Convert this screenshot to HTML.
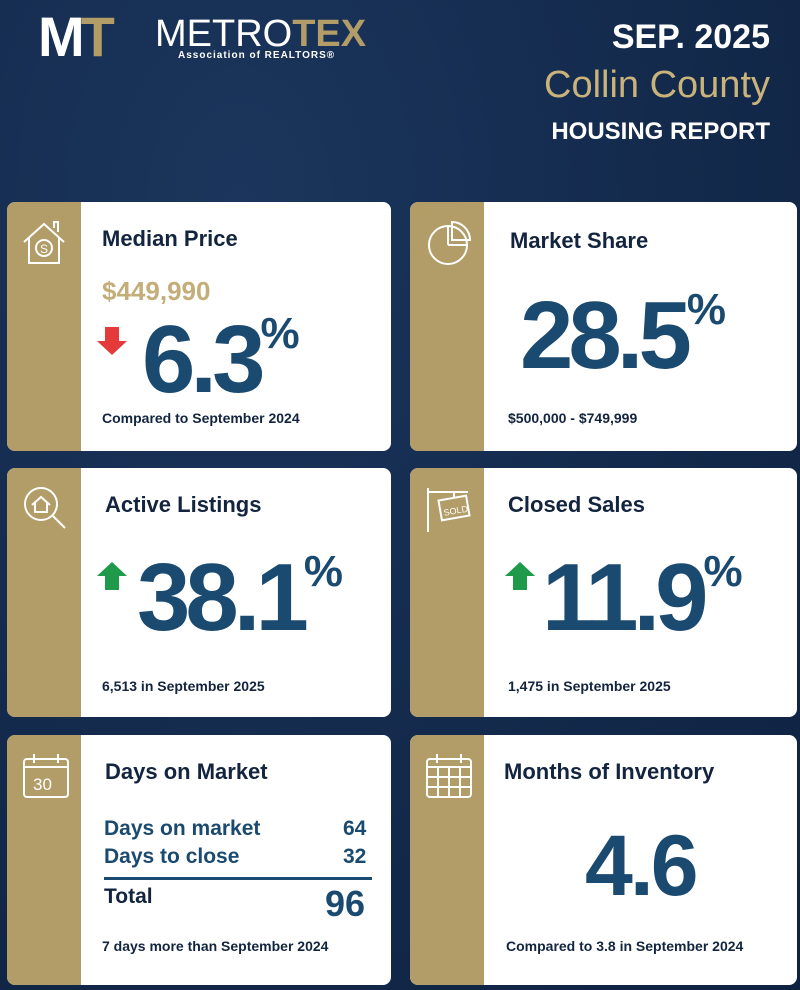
<!DOCTYPE html>
<html><head><meta charset="utf-8"><style>
*{margin:0;padding:0;box-sizing:border-box}
body{width:800px;height:990px;overflow:hidden;background:#14294a;font-family:"Liberation Sans",sans-serif;position:relative}
.bg{position:absolute;inset:0;background:radial-gradient(ellipse at 30% 20%,#1b355c 0%,#132a4c 55%,#0f2241 100%)}
.card{position:absolute;background:#fff;border-radius:8px;overflow:hidden}
.strip{position:absolute;left:0;top:0;bottom:0;width:74px;background:#b29c67}
.t{position:absolute;font-weight:bold;color:#13243f;font-size:22px}
.big{position:absolute;font-weight:bold;color:#1b4a70;letter-spacing:-5px;line-height:1}
.pct{font-size:44px;vertical-align:top;letter-spacing:0}
.s{position:absolute;font-weight:bold;color:#13243f;font-size:14px}
.icon{position:absolute;left:14px;top:16px}
</style></head><body>
<div class="bg"></div>
<div style="position:absolute;left:38px;top:10px;width:110px;height:54px;color:#fff;font-weight:bold;font-size:56px;line-height:54px;letter-spacing:-4px">M<span style="color:#b29c67">T</span></div>
<div style="position:absolute;left:155px;top:14px;color:#fff;font-size:38px;line-height:40px">METRO<b style="color:#b29c67">TEX</b></div>
<div style="position:absolute;left:178px;top:50px;color:#fff;font-size:10px;font-weight:bold;letter-spacing:1px">Association of REALTORS®</div>
<div style="position:absolute;right:30px;top:18px;color:#fff;font-weight:bold;font-size:34px">SEP. 2025</div>
<div style="position:absolute;right:30px;top:64px;color:#c9b37a;font-size:38px">Collin County</div>
<div style="position:absolute;right:30px;top:118px;color:#fff;font-weight:bold;font-size:24px">HOUSING REPORT</div>

<div class="card" style="left:7px;top:202px;width:384px;height:249px"><div class="strip"></div>
<svg class="icon" width="46" height="50" viewBox="0 0 46 50" fill="none" stroke="#fff" stroke-width="2"><path d="M3 24L23 6 43 24M8 20v25h30V20M33 10V4h4v10"/><circle cx="23" cy="30" r="8"/><text x="19" y="35" font-size="12" fill="#fff" stroke="none">S</text></svg>
<div class="t" style="left:95px;top:24px">Median Price</div>
<div class="t" style="left:95px;top:74px;color:#c3ad78;font-size:26px">$449,990</div>
<div style="position:absolute;left:90px;top:125px;width:30px;height:28px"><div style="margin-left:8px;width:14px;height:14px;background:#e53a3a"></div><div style="width:0;height:0;border-left:15px solid transparent;border-right:15px solid transparent;border-top:14px solid #e53a3a"></div></div>
<div class="big" style="left:135px;top:110px;font-size:96px">6.3<span class="pct">%</span></div>
<div class="s" style="left:95px;top:208px">Compared to September 2024</div></div>

<div class="card" style="left:410px;top:202px;width:387px;height:249px"><div class="strip"></div>
<svg class="icon" width="50" height="50" viewBox="0 0 50 50" fill="none" stroke="#fff" stroke-width="2"><circle cx="24" cy="27" r="19"/><path d="M24 27V8M24 27h19M28 4v18h18A18 18 0 0 0 28 4z"/></svg>
<div class="t" style="left:100px;top:26px">Market Share</div>
<div class="big" style="left:110px;top:86px;font-size:96px">28.5<span class="pct">%</span></div>
<div class="s" style="left:98px;top:208px">$500,000 - $749,999</div></div>

<div class="card" style="left:7px;top:468px;width:384px;height:249px"><div class="strip"></div>
<svg class="icon" width="50" height="50" viewBox="0 0 50 50" fill="none" stroke="#fff" stroke-width="2"><circle cx="20" cy="20" r="16"/><path d="M32 32l12 12M11 21l9-8 9 8M14 19v9h12v-9"/></svg>
<div class="t" style="left:98px;top:24px">Active Listings</div>
<div style="position:absolute;left:90px;top:94px;width:30px;height:28px"><div style="width:0;height:0;border-left:15px solid transparent;border-right:15px solid transparent;border-bottom:14px solid #1e9a4a"></div><div style="margin-left:8px;width:14px;height:14px;background:#1e9a4a"></div></div>
<div class="big" style="left:130px;top:82px;font-size:96px">38.1<span class="pct">%</span></div>
<div class="s" style="left:95px;top:210px">6,513 in September 2025</div></div>

<div class="card" style="left:410px;top:468px;width:387px;height:249px"><div class="strip"></div>
<svg class="icon" width="50" height="50" viewBox="0 0 50 50" fill="none" stroke="#fff" stroke-width="2"><path d="M4 4v44M4 8h40M30 8v6"/><rect x="16" y="14" width="28" height="20" transform="rotate(-10 30 24)"/><text x="19" y="30" font-size="9" fill="#fff" stroke="none" transform="rotate(-10 30 24)">SOLD</text></svg>
<div class="t" style="left:98px;top:24px">Closed Sales</div>
<div style="position:absolute;left:95px;top:94px;width:30px;height:28px"><div style="width:0;height:0;border-left:15px solid transparent;border-right:15px solid transparent;border-bottom:14px solid #1e9a4a"></div><div style="margin-left:8px;width:14px;height:14px;background:#1e9a4a"></div></div>
<div class="big" style="left:132px;top:82px;font-size:96px">11.9<span class="pct">%</span></div>
<div class="s" style="left:98px;top:210px">1,475 in September 2025</div></div>

<div class="card" style="left:7px;top:735px;width:384px;height:250px"><div class="strip"></div>
<svg class="icon" width="50" height="50" viewBox="0 0 50 50" fill="none" stroke="#fff" stroke-width="2"><rect x="3" y="8" width="44" height="38" rx="3"/><path d="M3 16h44M13 3v9M37 3v9"/><text x="12" y="39" font-size="17" fill="#fff" stroke="none">30</text></svg>
<div class="t" style="left:98px;top:24px">Days on Market</div>
<div class="t" style="left:97px;top:82px;color:#1b4a70;font-size:21px">Days on market</div>
<div class="t" style="left:336px;top:82px;color:#1b4a70;font-size:21px">64</div>
<div class="t" style="left:97px;top:110px;color:#1b4a70;font-size:21px">Days to close</div>
<div class="t" style="left:336px;top:110px;color:#1b4a70;font-size:21px">32</div>
<div style="position:absolute;left:97px;top:142px;width:268px;height:3px;background:#1b4a70"></div>
<div class="t" style="left:97px;top:150px;font-size:21px">Total</div>
<div class="t" style="left:318px;top:148px;color:#1b4a70;font-size:36px">96</div>
<div class="s" style="left:95px;top:203px">7 days more than September 2024</div></div>

<div class="card" style="left:410px;top:735px;width:387px;height:250px"><div class="strip"></div>
<svg class="icon" width="50" height="50" viewBox="0 0 50 50" fill="none" stroke="#fff" stroke-width="2"><rect x="3" y="8" width="44" height="38" rx="3"/><path d="M3 16h44M13 3v9M37 3v9M3 26h44M3 36h44M14 16v30M25 16v30M36 16v30"/></svg>
<div class="t" style="left:94px;top:24px">Months of Inventory</div>
<div class="big" style="left:175px;top:88px;font-size:86px;letter-spacing:-3px">4.6</div>
<div class="s" style="left:96px;top:203px">Compared to 3.8 in September 2024</div></div>
</body></html>
